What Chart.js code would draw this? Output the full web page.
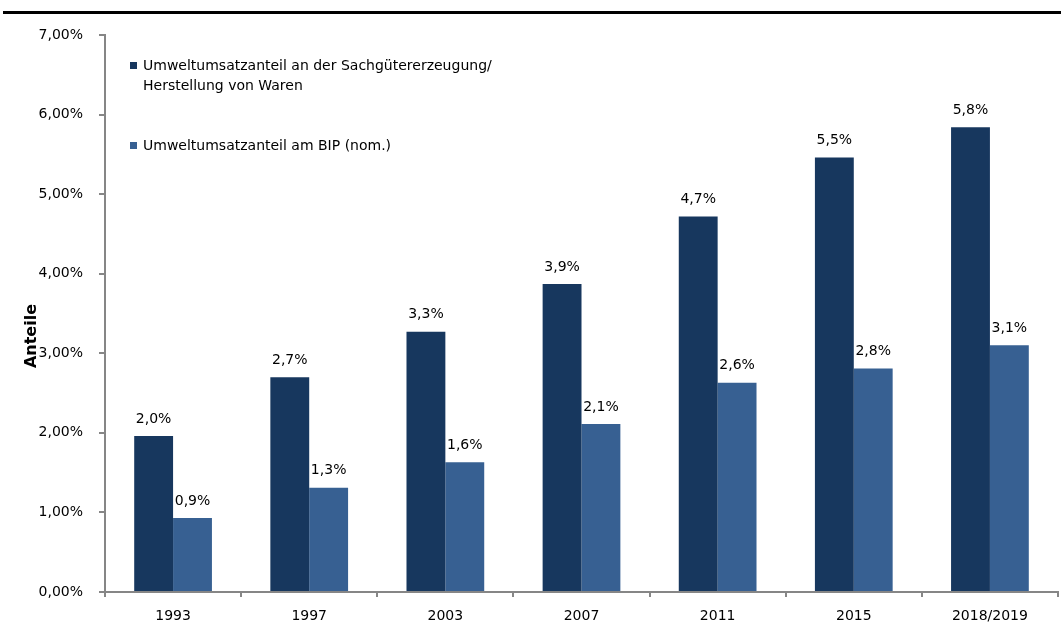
<!DOCTYPE html>
<html>
<head>
<meta charset="utf-8">
<script src="https://cdn.jsdelivr.net/npm/chart.js@4.4.1/dist/chart.umd.min.js"></script>
<style>
    html, body { margin: 0; padding: 0; background: #ffffff; }
    #wrap { position: relative; width: 1061px; height: 635px; overflow: hidden; }
    #topline { position: absolute; left: 3px; right: 0; top: 11px; height: 3px; background: #000; }
    #c { position: absolute; left: 0; top: 0; }
</style>
</head>
<body>
<div id="wrap">
    <div id="topline"></div>
    <canvas id="c" width="1061" height="635"></canvas>
</div>
<script>
// Kategorien und Werte (in Prozent)
const years = ['1993', '1997', '2003', '2007', '2011', '2015', '2018/2019'];
const sachgueter = [1.96, 2.70, 3.27, 3.87, 4.72, 5.46, 5.84];
const bip = [0.93, 1.31, 1.63, 2.11, 2.63, 2.81, 3.10];
const labelSachgueter = ['Umweltumsatzanteil an der Sachgütererzeugung/', 'Herstellung von Waren'];
const labelBip = ['Umweltumsatzanteil am BIP (nom.)'];
const yTitle = 'Anteile';

const FONT = '"DejaVu Sans", Verdana, sans-serif';
const COLORS = { dark: '#17375e', light: '#376092', axis: '#868686' };

function fmt(v, dec) {
    return v.toFixed(dec).replace('.', ',') + '%';
}

// Werte über den Balken
const valueLabels = {
    id: 'valueLabels',
    afterDatasetsDraw(chart) {
        const ctx = chart.ctx;
        ctx.save();
        ctx.font = '14px ' + FONT;
        ctx.fillStyle = '#000';
        ctx.textAlign = 'center';
        ctx.textBaseline = 'middle';
        chart.data.datasets.forEach((ds, i) => {
            chart.getDatasetMeta(i).data.forEach((bar, j) => {
                ctx.fillText(fmt(ds.data[j], 1), bar.x, bar.y - 17);
            });
        });
        ctx.restore();
    }
};

// Legende oben links (mehrzeilig) und Achsentitel
const sideLegend = {
    id: 'sideLegend',
    afterDraw(chart) {
        const ctx = chart.ctx;
        ctx.save();
        ctx.font = '14px ' + FONT;
        ctx.textBaseline = 'middle';
        ctx.textAlign = 'left';
        const ys = [66, 146];
        chart.data.datasets.forEach((ds, i) => {
            const y = ys[i];
            ctx.fillStyle = ds.backgroundColor;
            ctx.fillRect(130, y - 4, 7, 7);
            ctx.fillStyle = '#000';
            ds.label.forEach((line, k) => {
                ctx.fillText(line, 143, y + k * 20);
            });
        });

        // "Anteile" etwas unterhalb der Mitte, wie im Original
        ctx.translate(32, 336);
        ctx.rotate(-Math.PI / 2);
        ctx.font = 'bold 16px ' + FONT;
        ctx.textAlign = 'center';
        ctx.fillText(yTitle, 0, 0);
        ctx.restore();
    }
};

new Chart(document.getElementById('c'), {
    type: 'bar',
    plugins: [valueLabels, sideLegend],
    data: {
        labels: years,
        datasets: [
            {
                label: labelSachgueter,
                data: sachgueter,
                backgroundColor: COLORS.dark,
                barPercentage: 1,
                categoryPercentage: 0.571
            },
            {
                label: labelBip,
                data: bip,
                backgroundColor: COLORS.light,
                barPercentage: 1,
                categoryPercentage: 0.571
            }
        ]
    },
    options: {
        responsive: false,
        animation: false,
        layout: { padding: { top: 35, right: 3, left: 0, bottom: 0 } },
        plugins: {
            legend: { display: false },
            tooltip: { enabled: false }
        },
        scales: {
            x: {
                grid: {
                    display: true,
                    drawOnChartArea: false,
                    offset: true,
                    tickLength: 5,
                    color: COLORS.axis,
                    lineWidth: 2
                },
                border: { color: COLORS.axis, width: 2 },
                ticks: {
                    color: '#000',
                    font: { family: FONT, size: 14 },
                    padding: 11,
                    maxRotation: 0
                },
                afterFit(s) { s.height = 43; }
            },
            y: {
                min: 0,
                max: 7,
                grid: {
                    display: true,
                    drawOnChartArea: false,
                    tickLength: 6,
                    color: COLORS.axis,
                    lineWidth: 2
                },
                border: { color: COLORS.axis, width: 2 },
                ticks: {
                    stepSize: 1,
                    color: '#000',
                    font: { family: FONT, size: 14 },
                    padding: 16,
                    callback: v => fmt(v, 2)
                },
                afterFit(s) { s.width = 105; }
            }
        }
    }
});
</script>
</body>
</html>
